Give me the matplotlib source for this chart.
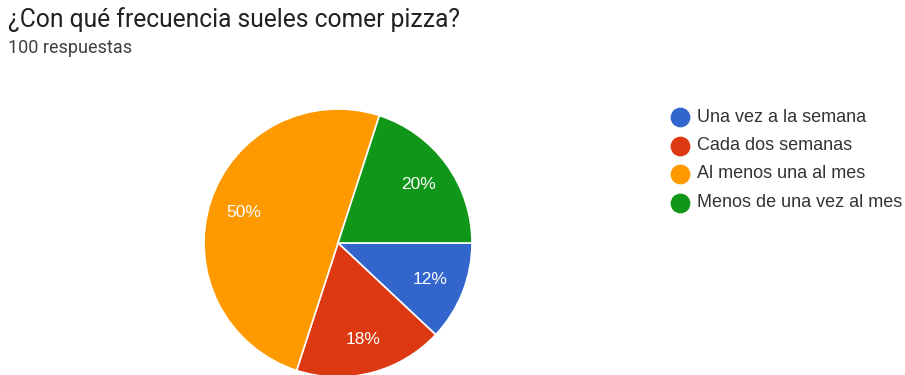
import matplotlib
matplotlib.use("Agg")
import matplotlib.pyplot as plt

title = "¿Con qué frecuencia sueles comer pizza?"
subtitle = "100 respuestas"
labels = ["Una vez a la semana", "Cada dos semanas", "Al menos una al mes", "Menos de una vez al mes"]
values = [12, 18, 50, 20]
colors = ["#3366cc", "#dc3912", "#ff9900", "#109618"]

W, H = 905, 375
fig = plt.figure(figsize=(W / 100, H / 100), dpi=100)
ax = fig.add_axes([0, 0, 1, 1])

# pixel-space axes, y measured from the bottom
cx, cy, r = 338, H - 243, 134
wedges, texts, autotexts = ax.pie(
    values, colors=colors, startangle=0, counterclock=False,
    center=(cx, cy), radius=r, autopct="%d%%", pctdistance=0.74,
    wedgeprops=dict(edgecolor="white", linewidth=1.2),
    textprops=dict(color="white", fontsize=12.5, family="Liberation Sans"),
)
ax.set_xlim(0, W)
ax.set_ylim(0, H)
ax.set_aspect("auto")
ax.axis("off")

fig.text(8 / W, 1 - 20 / H, title, fontsize=17.75, family="Roboto",
         color="#202124", va="center", ha="left")
fig.text(8 / W, 1 - 48 / H, subtitle, fontsize=13, family="Roboto",
         color="#3c4043", va="center", ha="left")

# legend
for i, (lab, col) in enumerate(zip(labels, colors)):
    y = H - (117 + i * 28.5)
    ax.scatter([680], [y], s=175, color=col, clip_on=False, zorder=3)
    ax.text(697, y, lab, fontsize=13, family="Liberation Sans",
            color="#333333", va="center", ha="left")

fig.savefig("out.png", dpi=100)
